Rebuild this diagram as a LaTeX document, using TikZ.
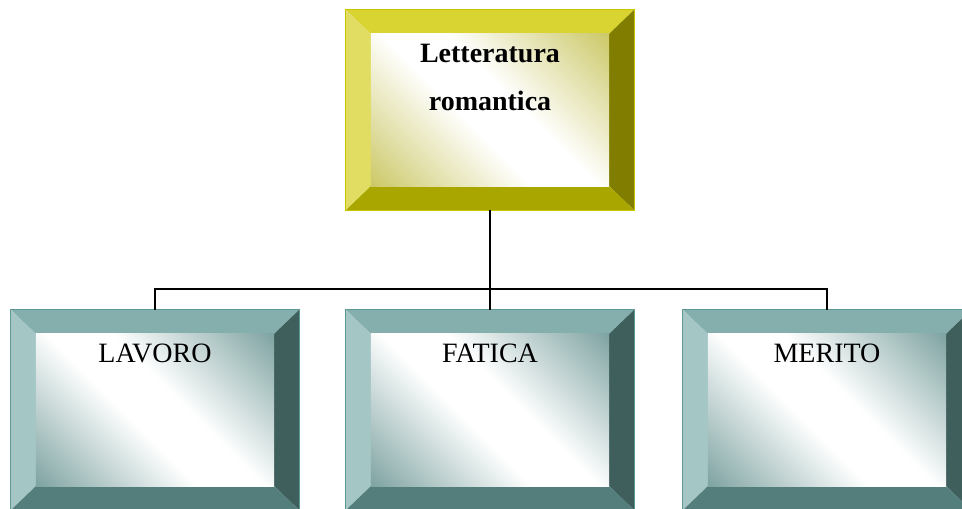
\documentclass[tikz,border=0pt]{standalone}
\usepackage{fontspec}
\setmainfont{Liberation Serif}
\usetikzlibrary{calc}

\definecolor{olivetop}{HTML}{D9D431}
\definecolor{oliveleft}{HTML}{E1DD62}
\definecolor{oliveright}{HTML}{807D00}
\definecolor{olivebottom}{HTML}{AAA600}
\definecolor{oliveedge}{HTML}{C9C400}
\definecolor{olivecorner}{HTML}{C4C050}
\definecolor{tealtop}{HTML}{85AFAD}
\definecolor{tealleft}{HTML}{A4C6C5}
\definecolor{tealright}{HTML}{3F5F5D}
\definecolor{tealbottom}{HTML}{537E7C}
\definecolor{tealedge}{HTML}{5E9996}
\definecolor{tealcorner}{HTML}{6A9593}

\pgfdeclareverticalshading{oliveglare}{100bp}{color(0bp)=(olivecorner); color(10bp)=(olivecorner);
  color(44bp)=(white); color(56bp)=(white); color(90bp)=(olivecorner); color(100bp)=(olivecorner)}
\pgfdeclareverticalshading{tealglare}{100bp}{color(0bp)=(tealcorner); color(10bp)=(tealcorner);
  color(44bp)=(white); color(56bp)=(white); color(90bp)=(tealcorner); color(100bp)=(tealcorner)}

\tikzstyle{frame} = [rectangle, minimum width=288pt, minimum height=200pt, inner sep=0pt]
\tikzstyle{word} = [anchor=base, align=center, font=\fontsize{28}{48}\selectfont]

% bevelled frame around a named node, #2 = colour prefix
\newcommand{\bevelbox}[2]{%
  \fill[#2top] (#1.north west) -- (#1.north east) -- ($(#1.north east)+(-25,24)$) -- ($(#1.north west)+(25,24)$) -- cycle;
  \fill[#2left] (#1.north west) -- ($(#1.north west)+(25,24)$) -- ($(#1.south west)+(25,-24)$) -- (#1.south west) -- cycle;
  \fill[#2right] (#1.north east) -- (#1.south east) -- ($(#1.south east)+(-25,-24)$) -- ($(#1.north east)+(-25,24)$) -- cycle;
  \fill[#2bottom] (#1.south west) -- ($(#1.south west)+(25,-24)$) -- ($(#1.south east)+(-25,-24)$) -- (#1.south east) -- cycle;
  \shade[shading=#2glare, shading angle=-45]
    ($(#1.north west)+(25,24)$) rectangle ($(#1.south east)+(-25,-24)$);
  \draw[#2edge, line width=0.8pt] (#1.north west) rectangle (#1.south east);
}

\begin{document}
\begin{tikzpicture}[x=1pt,y=-1pt]
  \useasboundingbox (0,0) rectangle (962,509);
  \clip (0,0) rectangle (962,509);

  \node[frame] (lett) at (490,110) {};
  \node[frame] (lav)  at (155,410) {};
  \node[frame] (fat)  at (490,410) {};
  \node[frame] (mer)  at (827,410) {};

  \bevelbox{lett}{olive}
  \bevelbox{lav}{teal}
  \bevelbox{fat}{teal}
  \bevelbox{mer}{teal}

  \node[word, font=\fontsize{28}{48}\selectfont\bfseries] (lettname) at (490,110) {Letteratura\\romantica};
  \node[word] (lavname) at (155,362) {LAVORO};
  \node[word] (fatname) at (490,362) {FATICA};
  \node[word] (mername) at (827,362) {MERITO};

  \coordinate (fork) at (490,289);
  \draw[line width=1.5pt] (lett.south) -- (fork);
  \draw[line width=1.5pt] (fork) -| (lav.north);
  \draw[line width=1.5pt] (fork) -- (fat.north);
  \draw[line width=1.5pt] (fork) -| (mer.north);
\end{tikzpicture}
\end{document}
